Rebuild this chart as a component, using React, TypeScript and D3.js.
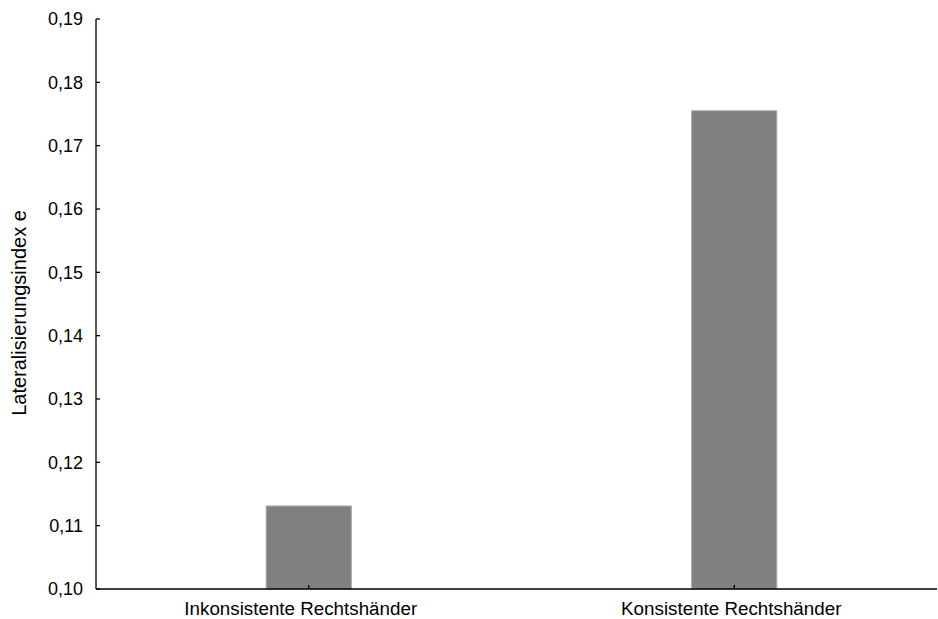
import * as d3 from 'd3'
import React, { useEffect, useRef } from "react";

const categories = ["Inkonsistente Rechtshänder", "Konsistente Rechtshänder"];
const values = [0.1131, 0.1755];
const yTicks = [0.10, 0.11, 0.12, 0.13, 0.14, 0.15, 0.16, 0.17, 0.18, 0.19];
const yLabel = "Lateralisierungsindex e";

const App: React.FC = () => {
    const ref = useRef<SVGSVGElement>(null);

    useEffect(() => {
        if (!ref.current) return;
        const width = 938;
        const height = 619;
        const svg = d3.select(ref.current);
        svg.selectAll('*').remove();
        svg.attr('width', width).attr('height', height);

        const left = 96, top = 19, bottom = 589;
        const font = 'Liberation Sans, Arial, sans-serif';

        const x = d3.scaleBand<string>().domain(categories).range([left, 947]);
        const y = d3.scaleLinear().domain([0.10, 0.19]).range([bottom, top]);

        const g = svg.append('g').attr('font-family', font).attr('font-size', 18);

        // bars
        g.selectAll('rect.bar')
            .data(categories)
            .enter()
            .append('rect')
            .attr('class', 'bar')
            .attr('x', d => x(d)! + x.bandwidth() / 2 - 42.5)
            .attr('width', 85)
            .attr('y', (d, i) => y(values[i]))
            .attr('height', (d, i) => bottom - y(values[i]))
            .attr('fill', '#808080')
            .attr('stroke', '#a0a0a0')
            .attr('stroke-width', 1);

        // y axis
        g.append('line')
            .attr('x1', left).attr('x2', left)
            .attr('y1', top).attr('y2', bottom)
            .attr('stroke', '#000').attr('stroke-width', 1.3);
        yTicks.forEach(t => {
            g.append('line')
                .attr('x1', left).attr('x2', left + 4)
                .attr('y1', y(t)).attr('y2', y(t))
                .attr('stroke', '#000').attr('stroke-width', 1.3);
            g.append('text')
                .attr('x', left - 13)
                .attr('y', y(t))
                .attr('dy', '0.36em')
                .attr('text-anchor', 'end')
                .text(d3.format('.2f')(t).replace('.', ','));
        });

        // x axis
        g.append('line')
            .attr('x1', left).attr('x2', 937)
            .attr('y1', bottom).attr('y2', bottom)
            .attr('stroke', '#000').attr('stroke-width', 1.3);
        categories.forEach((c, i) => {
            const cx = x(c)! + x.bandwidth() / 2;
            g.append('line')
                .attr('x1', cx).attr('x2', cx)
                .attr('y1', bottom).attr('y2', bottom - 4)
                .attr('stroke', '#000').attr('stroke-width', 1.3);
            g.append('text')
                .attr('x', cx + (i === 0 ? -8 : -3))
                .attr('y', 615)
                .attr('font-size', 18.8)
                .attr('text-anchor', 'middle')
                .text(c);
        });

        g.append('text')
            .attr('transform', `translate(26, 313) rotate(-90)`)
            .attr('font-size', 20)
            .attr('text-anchor', 'middle')
            .text(yLabel);
    }, []);

    return (<svg ref={ref} style={{ position: 'absolute', left: 0, top: 0 }}></svg>);
}

export default App;
